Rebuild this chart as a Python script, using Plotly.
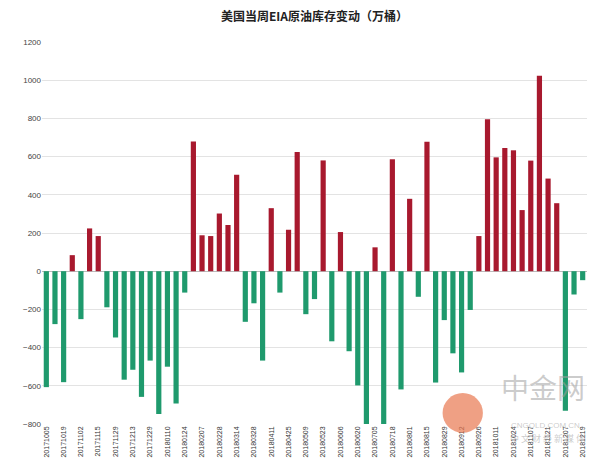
import plotly.graph_objects as go

# weekly EIA release dates (every other one is labelled on the axis)
dates = ['20171005', '20171012', '20171019', '20171026', '20171102', '20171108',
         '20171115', '20171122', '20171129', '20171206', '20171213', '20171220',
         '20171229', '20180104', '20180110', '20180117', '20180124', '20180131',
         '20180207', '20180214', '20180228', '20180307', '20180314', '20180321',
         '20180328', '20180404', '20180411', '20180418', '20180425', '20180502',
         '20180509', '20180516', '20180523', '20180531', '20180606', '20180613',
         '20180620', '20180627', '20180705', '20180711', '20180718', '20180725',
         '20180801', '20180808', '20180815', '20180822', '20180829', '20180906',
         '20180912', '20180919', '20180926', '20181003', '20181011', '20181017',
         '20181024', '20181031', '20181107', '20181114', '20181121', '20181129',
         '20181207', '20181212', '20181219']

# crude inventory change, 10k barrels
changes = [-607, -277, -581, 84, -251, 224, 184, -189, -347, -568,
           -516, -658, -468, -747, -500, -693, -112, 679, 188, 184,
           302, 242, 505, -265, -168, -468, 330, -112, 217, 624,
           -225, -146, 580, -367, 205, -419, -598, -810, 125, -810,
           586, -619, 379, -134, 678, -583, -256, -430, -530, -203,
           184, 795, 596, 645, 633, 320, 579, 1023, 485, 356,
           -730, -122, -47]

y_ticks = [-800, -600, -400, -200, 0, 200, 400, 600, 800, 1000, 1200]

colors = ['#a8192e' if v > 0 else '#1f9a6d' for v in changes]

fig = go.Figure()
fig.add_trace(go.Bar(x=dates, y=changes, marker=dict(color=colors, line_width=0),
                     showlegend=False))

# page body adds an 8px offset, margins are shifted to compensate
fig.update_layout(
    width=600, height=467,
    margin=dict(l=34, r=21, t=34, b=51),
    paper_bgcolor='white', plot_bgcolor='white',
    bargap=0.4,
    font=dict(family='Liberation Sans, Arial, sans-serif', color='#444'),
    title=dict(text='<b>美国当周EIA原油库存变动（万桶）</b>', x=0.5, xanchor='center',
               xref='paper', y=0.981, yanchor='middle',
               font=dict(family='Noto Sans CJK SC', size=12, color='#222')),
    xaxis=dict(type='category', tickangle=-90, tickvals=dates[::2], ticktext=dates[::2],
               tickfont=dict(size=7, color='#333'), showgrid=False, showline=False,
               ticks='', automargin=False),
    yaxis=dict(range=[-800, 1200], tickvals=y_ticks, tickfont=dict(size=8, color='#444'),
               showgrid=True, gridcolor='#e3e3e3', gridwidth=1,
               zeroline=True, zerolinecolor='#bbbbbb', zerolinewidth=1,
               showline=False, ticks='', automargin=False),
)

# watermark
fig.add_shape(type='circle', xref='paper', yref='paper',
              x0=0.735, x1=0.809, y0=-0.023, y1=0.081,
              fillcolor='rgba(232,120,80,0.7)', line_width=0, layer='above')
fig.add_annotation(text='中金网', xref='paper', yref='paper', x=1.0, y=0.04,
                   xanchor='right', showarrow=False,
                   font=dict(family='Noto Sans CJK SC', size=28, color='rgba(160,160,160,0.55)'))
fig.add_annotation(text='CNGOLD.COM.CN', xref='paper', yref='paper', x=0.99, y=-0.02,
                   xanchor='right', showarrow=False,
                   font=dict(size=8, color='rgba(160,160,160,0.55)'))
fig.add_annotation(text='中 文 财 经 新 媒 体', xref='paper', yref='paper', x=1.0, y=-0.06,
                   xanchor='right', showarrow=False,
                   font=dict(family='Noto Sans CJK SC', size=9, color='rgba(160,160,160,0.55)'))

fig.write_html('out.html')
